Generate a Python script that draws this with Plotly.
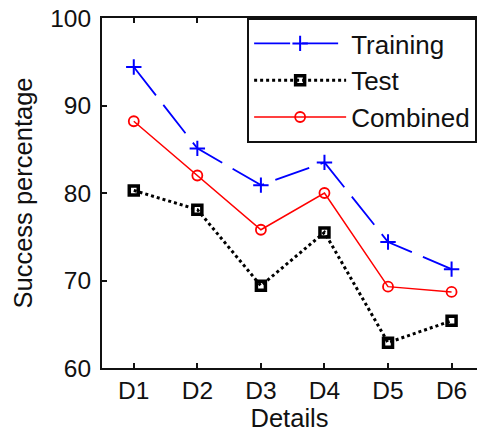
import plotly.graph_objects as go

categories = ["D1", "D2", "D3", "D4", "D5", "D6"]
training = [94.4, 85.1, 80.9, 83.5, 74.4, 71.3]
test = [80.3, 78.1, 69.4, 75.5, 62.9, 65.4]
combined = [88.2, 82.0, 75.8, 80.0, 69.3, 68.7]
y_ticks = [60, 70, 80, 90, 100]

FONT = "Liberation Sans, Arial, sans-serif"

fig = go.Figure()
fig.add_trace(go.Scatter(
    x=categories, y=training, name="Training", mode="lines+markers",
    line=dict(color="#0000ff", width=1.8, dash="36px,12px"),
    marker=dict(symbol="cross-thin", size=11, line=dict(color="#0000ff", width=2)),
))
fig.add_trace(go.Scatter(
    x=categories, y=test, name="Test", mode="lines+markers",
    line=dict(color="#000000", width=3, dash="dot"),
    marker=dict(symbol="square-open", size=9, color="#000000", line=dict(color="#000000", width=3.5)),
))
fig.add_trace(go.Scatter(
    x=categories, y=combined, name="Combined", mode="lines+markers",
    line=dict(color="#ff0000", width=1.5),
    marker=dict(symbol="circle-open", size=10, color="#ff0000", line=dict(color="#ff0000", width=1.8)),
))

fig.update_layout(
    width=477, height=436,
    margin=dict(l=102, r=0, t=18, b=68, autoexpand=False),
    paper_bgcolor="white", plot_bgcolor="white",
    font=dict(family=FONT, size=24, color="#111111"),
    showlegend=True,
    legend=dict(
        x=0.387, y=1.0, xanchor="left", yanchor="top",
        bgcolor="white", bordercolor="#111111", borderwidth=2,
        font=dict(family=FONT, size=26, color="#111111"),
        itemwidth=92, tracegroupgap=0,
    ),
    xaxis=dict(
        type="category", categoryorder="array", categoryarray=categories,
        range=[-0.5, 5.4], showgrid=False, zeroline=False, automargin=False,
        showline=True, linecolor="#111111", linewidth=2, mirror="ticks",
        ticks="inside", ticklen=5, tickwidth=1.5, tickcolor="#111111",
        tickfont=dict(size=24.5),
        title=dict(text="Details", font=dict(size=25.5), standoff=6),
    ),
    yaxis=dict(
        range=[60, 100], tickvals=y_ticks, showgrid=False, zeroline=False, automargin=False,
        showline=True, linecolor="#111111", linewidth=2, mirror=False,
        ticks="inside", ticklen=5, tickwidth=1.5, tickcolor="#111111",
        tickfont=dict(size=24.5), ticklabelstandoff=4,
        title=dict(text="Success percentage", font=dict(size=25.5), standoff=10),
    ),
)

fig.write_html(
    "out.html",
    config={"displayModeBar": False},
    post_script="document.body.style.margin='0px'; document.body.style.overflow='hidden';",
)
